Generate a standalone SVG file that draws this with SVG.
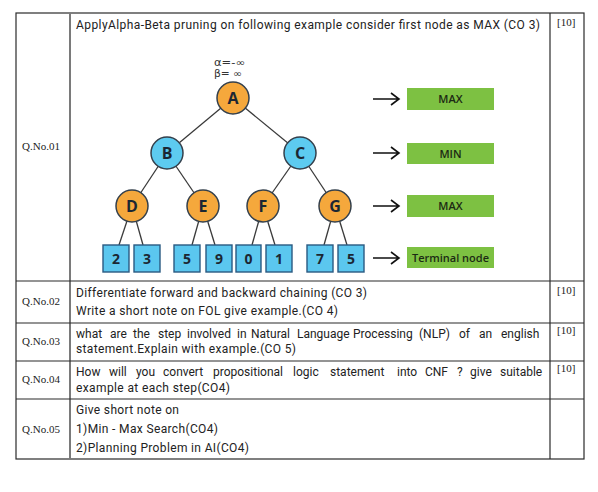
<svg xmlns="http://www.w3.org/2000/svg" width="598" height="492" viewBox="0 0 598 492">
<style>
.bg{fill:#fff}
.tl{stroke:#2b2b2b;stroke-width:1.2;fill:none}
.tg{stroke:#7a7a7a;stroke-width:2;fill:none}
.t{font-family:Roboto,"Liberation Sans",sans-serif;font-size:12px;fill:#222}
.q{font-family:"Liberation Serif",serif;font-size:11px;fill:#222}
.m{font-family:"Liberation Serif",serif;font-size:11px;fill:#222}
.max{fill:#F5A83C;stroke:#34404c;stroke-width:1.5}
.min{fill:#5DCBF0;stroke:#34404c;stroke-width:1.5}
.leaf{fill:#5BC7EF;stroke:#2a5a82;stroke-width:1.4}
.nl{font-family:"Open Sans","Liberation Sans",sans-serif;font-weight:700;font-size:16px;fill:#1b2733;text-anchor:middle}
.ll{font-family:"Open Sans","Liberation Sans",sans-serif;font-weight:700;font-size:14px;fill:#1b2733;text-anchor:middle}
.edge{stroke:#3a3a3a;stroke-width:1.3;fill:none}
.arr{stroke:#111;stroke-width:1.6;fill:none}
.gb{fill:#7DC142}
.gl{font-family:"Open Sans","Liberation Sans",sans-serif;font-weight:600;font-size:11px;fill:#1c2a14;text-anchor:middle}
.ab{font-family:"DejaVu Sans",sans-serif;font-size:10px;fill:#333}
</style>
<rect class="bg" x="0" y="0" width="598" height="492"/>

<g id="table">
<rect class="tl" x="16" y="13" width="568" height="446"/>
<line class="tg" x1="70" y1="13" x2="70" y2="459"/>
<line class="tl" x1="550" y1="13" x2="550" y2="459"/>
<line class="tl" x1="16" y1="281" x2="584" y2="281"/>
<line class="tl" x1="16" y1="323" x2="584" y2="323"/>
<line class="tl" x1="16" y1="361" x2="584" y2="361"/>
<line class="tl" x1="16" y1="399" x2="584" y2="399"/>
</g>

<g id="row1-text">
<text class="q" x="22" y="150">Q.No.01</text>
<text class="t" x="76" y="29" textLength="464" lengthAdjust="spacing">ApplyAlpha-Beta pruning on following example consider first node as MAX  (CO 3)</text>
<text class="m" x="557" y="26">[10]</text>
</g>

<g id="connectors">
<line class="edge" x1="233" y1="98" x2="167" y2="153"/>
<line class="edge" x1="233" y1="98" x2="300" y2="153"/>
<line class="edge" x1="167" y1="153" x2="132" y2="206"/>
<line class="edge" x1="167" y1="153" x2="203" y2="206"/>
<line class="edge" x1="300" y1="153" x2="263" y2="206"/>
<line class="edge" x1="300" y1="153" x2="335" y2="206"/>
<line class="edge" x1="132" y1="206" x2="119" y2="245"/>
<line class="edge" x1="132" y1="206" x2="143" y2="245"/>
<line class="edge" x1="203" y1="206" x2="192" y2="245"/>
<line class="edge" x1="203" y1="206" x2="215" y2="245"/>
<line class="edge" x1="263" y1="206" x2="252" y2="245"/>
<line class="edge" x1="263" y1="206" x2="275" y2="245"/>
<line class="edge" x1="335" y1="206" x2="324" y2="245"/>
<line class="edge" x1="335" y1="206" x2="347" y2="245"/>
<path class="arr" d="M373 99H398M391 93L399 99L391 105"/>
<path class="arr" d="M373 153H398M391 147L399 153L391 159"/>
<path class="arr" d="M373 206H398M391 200L399 206L391 212"/>
<path class="arr" d="M373 258H398M391 252L399 258L391 264"/>
</g>

<g id="alphabeta">
<text class="ab" x="214" y="66" textLength="31" lengthAdjust="spacingAndGlyphs">α=-∞</text>
<text class="ab" x="214" y="77" textLength="28" lengthAdjust="spacingAndGlyphs">β= ∞</text>
</g>

<g id="node-A"><circle class="max" cx="233" cy="98" r="16"/><text class="nl" x="233" y="104">A</text></g>
<g id="node-B"><circle class="min" cx="167" cy="153" r="16"/><text class="nl" x="167" y="159">B</text></g>
<g id="node-C"><circle class="min" cx="300" cy="153" r="16"/><text class="nl" x="300" y="159">C</text></g>
<g id="node-D"><circle class="max" cx="132" cy="206" r="16"/><text class="nl" x="132" y="212">D</text></g>
<g id="node-E"><circle class="max" cx="203" cy="206" r="16"/><text class="nl" x="203" y="212">E</text></g>
<g id="node-F"><circle class="max" cx="263" cy="206" r="16"/><text class="nl" x="263" y="212">F</text></g>
<g id="node-G"><circle class="max" cx="335" cy="206" r="16"/><text class="nl" x="335" y="212">G</text></g>

<g id="leaf-1"><rect class="leaf" x="103" y="245" width="26" height="27"/><text class="ll" x="116" y="263.5">2</text></g>
<g id="leaf-2"><rect class="leaf" x="134" y="245" width="26" height="27"/><text class="ll" x="147" y="263.5">3</text></g>
<g id="leaf-3"><rect class="leaf" x="174" y="245" width="26" height="27"/><text class="ll" x="187" y="263.5">5</text></g>
<g id="leaf-4"><rect class="leaf" x="206" y="245" width="26" height="27"/><text class="ll" x="219" y="263.5">9</text></g>
<g id="leaf-5"><rect class="leaf" x="236" y="245" width="25" height="27"/><text class="ll" x="248.5" y="263.5">0</text></g>
<g id="leaf-6"><rect class="leaf" x="266" y="245" width="26" height="27"/><text class="ll" x="279" y="263.5">1</text></g>
<g id="leaf-7"><rect class="leaf" x="307" y="245" width="26" height="27"/><text class="ll" x="320" y="263.5">7</text></g>
<g id="leaf-8"><rect class="leaf" x="338" y="245" width="26" height="27"/><text class="ll" x="351" y="263.5">5</text></g>

<g id="legend-max1"><rect class="gb" x="407" y="88" width="87" height="22"/><text class="gl" x="450.5" y="103">MAX</text></g>
<g id="legend-min"><rect class="gb" x="407" y="143" width="87" height="21"/><text class="gl" x="450.5" y="157.5">MIN</text></g>
<g id="legend-max2"><rect class="gb" x="407" y="195" width="87" height="22"/><text class="gl" x="450.5" y="210">MAX</text></g>
<g id="legend-terminal"><rect class="gb" x="407" y="247" width="87" height="21"/><text class="gl" x="450.5" y="261.5">Terminal node</text></g>

<g id="row2">
<text class="q" x="22" y="305">Q.No.02</text>
<text class="t" x="76" y="297" textLength="291" lengthAdjust="spacing">Differentiate forward and backward chaining (CO 3)</text>
<text class="t" x="76" y="315" textLength="262" lengthAdjust="spacing">Write a short note on FOL give example.(CO 4)</text>
<text class="m" x="557" y="294">[10]</text>
</g>

<g id="row3">
<text class="q" x="22" y="345">Q.No.03</text>
<text class="t" y="338"><tspan x="76">what</tspan><tspan x="110">are</tspan><tspan x="133">the</tspan><tspan x="158">step</tspan><tspan x="187">involved</tspan><tspan x="237">in</tspan><tspan x="251">Natural</tspan><tspan x="297">Language</tspan><tspan x="353">Processing</tspan><tspan x="419">(NLP)</tspan><tspan x="459">of</tspan><tspan x="479">an</tspan><tspan x="501">english</tspan></text>
<text class="t" x="76" y="353" textLength="220" lengthAdjust="spacing">statement.Explain with example.(CO 5)</text>
<text class="m" x="557" y="334">[10]</text>
</g>

<g id="row4">
<text class="q" x="22" y="383">Q.No.04</text>
<text class="t" y="376"><tspan x="76">How</tspan><tspan x="109">will</tspan><tspan x="136">you</tspan><tspan x="163">convert</tspan><tspan x="213">propositional</tspan><tspan x="293">logic</tspan><tspan x="330">statement</tspan><tspan x="397">into</tspan><tspan x="425">CNF</tspan><tspan x="457">?</tspan><tspan x="470">give</tspan><tspan x="500">suitable</tspan></text>
<text class="t" x="76" y="392" textLength="154" lengthAdjust="spacing">example at each step(CO4)</text>
<text class="m" x="557" y="372">[10]</text>
</g>

<g id="row5">
<text class="q" x="22" y="433">Q.No.05</text>
<text class="t" x="76" y="414" textLength="103" lengthAdjust="spacing">Give short note on</text>
<text class="t" x="76" y="433" textLength="142" lengthAdjust="spacing">1)Min - Max Search(CO4)</text>
<text class="t" x="76" y="452" textLength="173" lengthAdjust="spacing">2)Planning Problem in AI(CO4)</text>
</g>
</svg>
